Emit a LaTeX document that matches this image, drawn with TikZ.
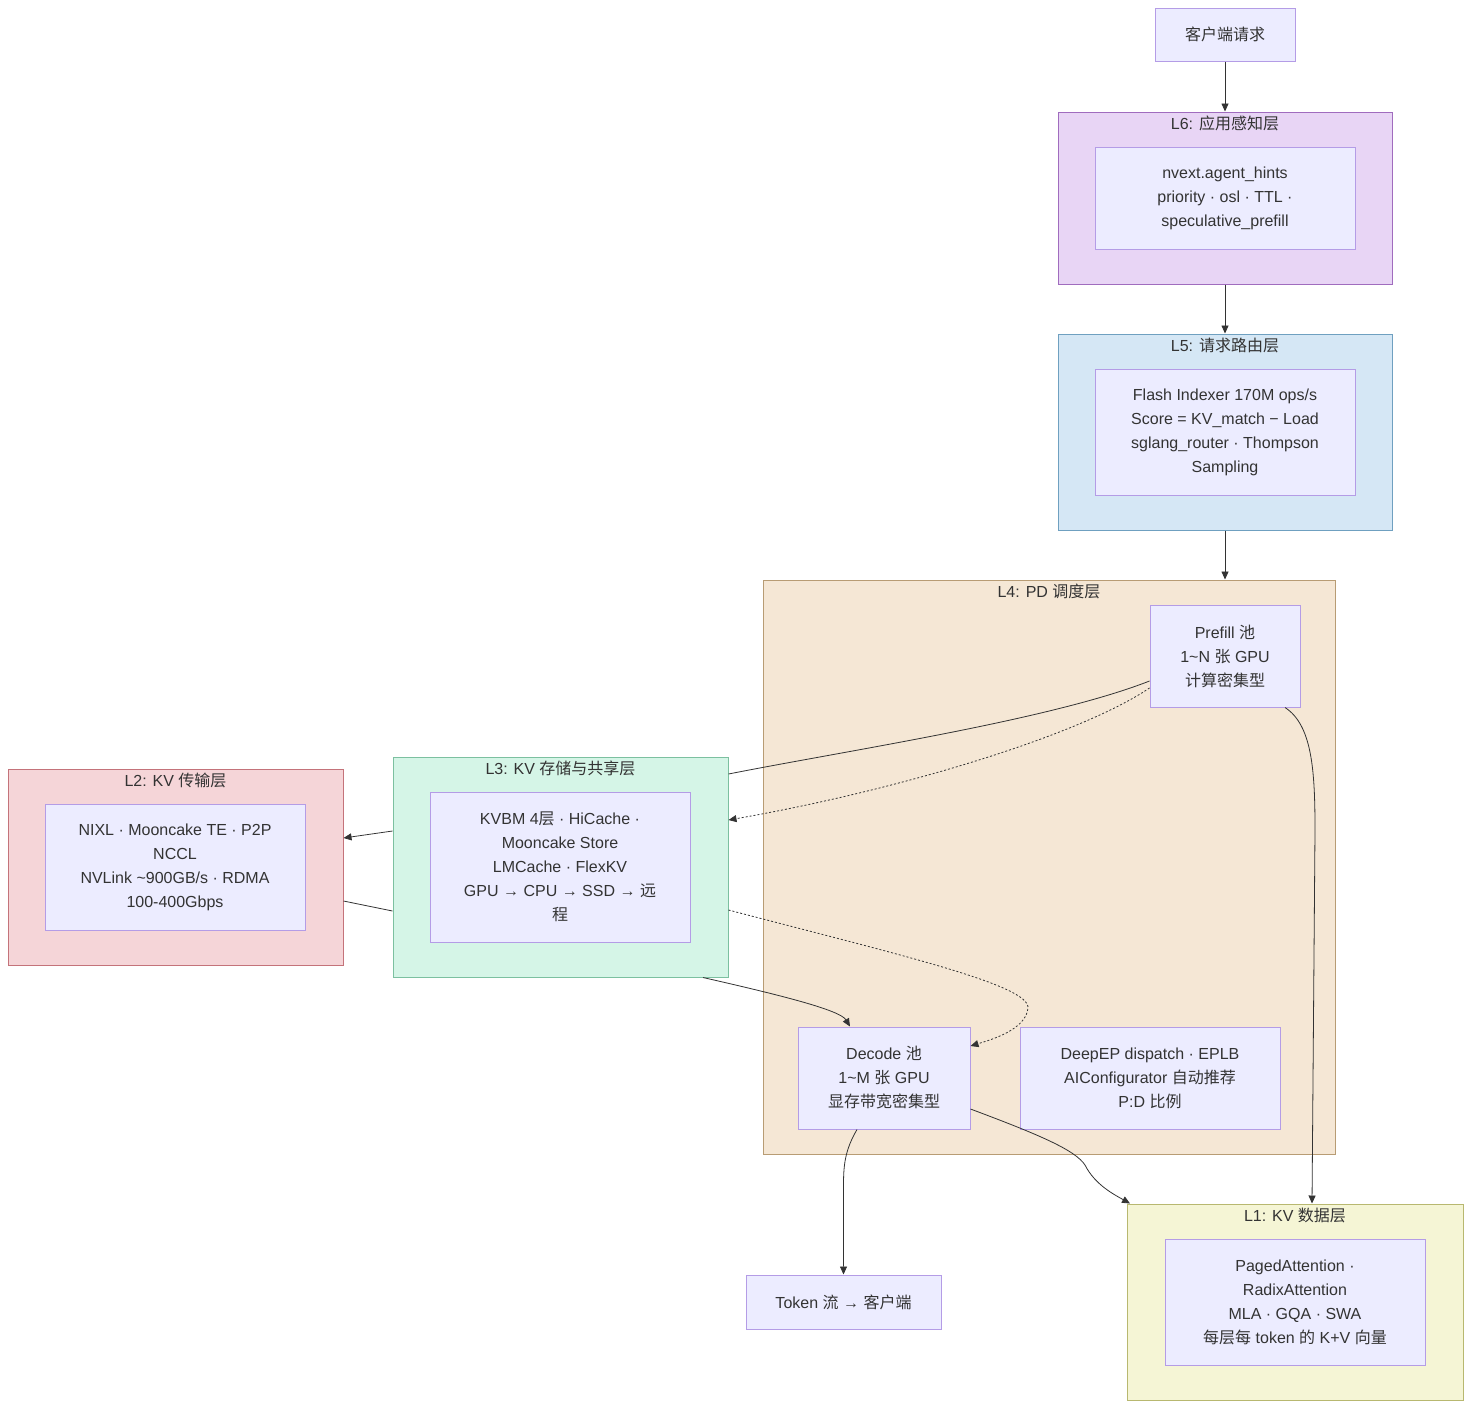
\documentclass[tikz,border=0pt]{standalone}
\usepackage{fontspec}
\setmainfont{Liberation Sans}
\newfontfamily\cjk{Noto Sans CJK SC}
\newcommand{\zh}[1]{{\cjk #1}}
\usetikzlibrary{arrows.meta}
\definecolor{txt}{HTML}{333333}
\definecolor{nodefill}{HTML}{ECECFF}
\definecolor{nodeline}{HTML}{B49CE6}
\definecolor{sixfill}{HTML}{E8D5F5}
\definecolor{sixline}{HTML}{A06CBE}
\definecolor{fivefill}{HTML}{D5E7F5}
\definecolor{fiveline}{HTML}{6FA0C0}
\definecolor{fourfill}{HTML}{F5E7D5}
\definecolor{fourline}{HTML}{B89C74}
\definecolor{threefill}{HTML}{D5F5E7}
\definecolor{threeline}{HTML}{7CC0A0}
\definecolor{twofill}{HTML}{F5D5D8}
\definecolor{twoline}{HTML}{C4737A}
\definecolor{onefill}{HTML}{F5F5D5}
\definecolor{oneline}{HTML}{B8B870}
\begin{document}
\begin{tikzpicture}[x=1pt,y=-1pt,
    box/.style={draw=nodeline, fill=nodefill, line width=1pt, inner sep=0pt,
      align=center, text=txt, font=\fontsize{16}{24}\selectfont},
    layer/.style={line width=1pt, inner sep=0pt},
    title/.style={inner sep=0pt, text=txt, font=\fontsize{16}{24}\selectfont},
    link/.style={draw=txt, line width=0.8pt, -{Triangle[length=8pt,width=7pt]}},
    plain/.style={draw=txt, line width=0.8pt},
    dots/.style={link, dash pattern=on 2pt off 2pt}]
  \useasboundingbox[fill=white] (0,0) rectangle (1471,1408);

  % layers
  \node[layer, draw=sixline, fill=sixfill, minimum width=334pt, minimum height=172pt] (L6) at (1225,198) {};
  \node[layer, draw=fiveline, fill=fivefill, minimum width=334pt, minimum height=196pt] (L5) at (1225,432) {};
  \node[layer, draw=fourline, fill=fourfill, minimum width=572pt, minimum height=574pt] (L4) at (1049,867) {};
  \node[layer, draw=threeline, fill=threefill, minimum width=335pt, minimum height=220pt] (L3) at (560.5,867) {};
  \node[layer, draw=twoline, fill=twofill, minimum width=335pt, minimum height=196pt] (L2) at (175.5,867) {};
  \node[layer, draw=oneline, fill=onefill, minimum width=336pt, minimum height=196pt] (L1) at (1295,1302) {};
  \draw
    (1225,123) node[title] (L6title) {L6: \zh{应用感知层}}
    (1225,345) node[title] (L5title) {L5: \zh{请求路由层}}
    (1049,591) node[title] (L4title) {L4: PD \zh{调度层}}
    (560.5,768) node[title] (L3title) {L3: KV \zh{存储与共享层}}
    (175.5,780) node[title] (L2title) {L2: KV \zh{传输层}}
    (1295,1215) node[title] (L1title) {L1: KV \zh{数据层}};

  % boxes
  \node[box, minimum width=140pt, minimum height=53pt] (client) at (1225,34.5) {\zh{客户端请求}};
  \node[box, minimum width=260pt, minimum height=102pt] (hints) at (1225,198)
    {nvext.agent\_hints\\priority · osl · TTL ·\\speculative\_prefill};
  \node[box, minimum width=260pt, minimum height=126pt] (router) at (1225,432)
    {Flash Indexer 170M ops/s\\Score = KV\_match − Load\\sglang\_router · Thompson\\Sampling};
  \node[box, minimum width=150pt, minimum height=102pt] (prefill) at (1225,656)
    {Prefill \zh{池}\\1\textasciitilde N \zh{张} GPU\\\zh{计算密集型}};
  \node[box, minimum width=172pt, minimum height=102pt] (decode) at (884,1078)
    {Decode \zh{池}\\1\textasciitilde M \zh{张} GPU\\\zh{显存带宽密集型}};
  \node[box, minimum width=260pt, minimum height=102pt] (deepep) at (1150,1078)
    {DeepEP dispatch · EPLB\\AIConfigurator \zh{自动推荐}\\P:D \zh{比例}};
  \node[box, minimum width=260pt, minimum height=150pt] (store) at (560,867)
    {KVBM 4\zh{层} · HiCache ·\\Mooncake Store\\LMCache · FlexKV\\GPU → CPU → SSD → \zh{远}\\\zh{程}};
  \node[box, minimum width=260pt, minimum height=126pt] (xfer) at (175,867)
    {NIXL · Mooncake TE · P2P\\NCCL\\NVLink \textasciitilde 900GB/s · RDMA\\100-400Gbps};
  \node[box, minimum width=260pt, minimum height=126pt] (kvdata) at (1295,1302)
    {PagedAttention ·\\RadixAttention\\MLA · GQA · SWA\\\zh{每层每} token \zh{的} K+V \zh{向量}};
  \node[box, minimum width=195pt, minimum height=54pt] (token) at (843.5,1302)
    {Token \zh{流} → \zh{客户端}};

  % links
  \draw[link] (client) -- (L6);
  \draw[link] (L6) -- (L5);
  \draw[link] (L5.south) -- (L5.south |- L4.north);
  \draw[plain] ([yshift=-25pt]prefill.west) .. controls (1050,720) and (850,750) .. ([yshift=93pt]L3.east);
  \draw[dots] ([yshift=-32pt]prefill.west) .. controls (1080,735) and (900,790) .. ([yshift=47pt]L3.east);
  \draw[link] ([yshift=36pt]L3.west) -- ([yshift=29pt]L2.east);
  \draw[plain] ([yshift=-34pt]L2.east) -- ([yshift=-44pt]L3.west);
  \draw[link] ([xshift=142.5pt]L3.south) .. controls (780,995) and (840,1010) .. ([xshift=-34pt]decode.north);
  \draw[dots] ([yshift=-43pt]L3.east) .. controls (900,955) and (1030,985) .. (1028,1008)
    .. controls (1026,1030) and (990,1040) .. ([yshift=32pt]decode.east);
  \draw[link] ([xshift=60pt]prefill.south) .. controls (1312,725) and (1315,770) .. (1315,830)
    -- ([xshift=17pt]L1.north);
  \draw[link] ([yshift=-31pt]decode.east) .. controls (1040,1135) and (1075,1150) .. (1085,1165)
    .. controls (1095,1185) and (1115,1195) .. ([xshift=-165pt]L1.north);
  \draw[link] ([xshift=-27pt]decode.south) .. controls (845,1150) and (843.5,1165) .. (843.5,1185)
    -- (token.north);
\end{tikzpicture}
\end{document}
